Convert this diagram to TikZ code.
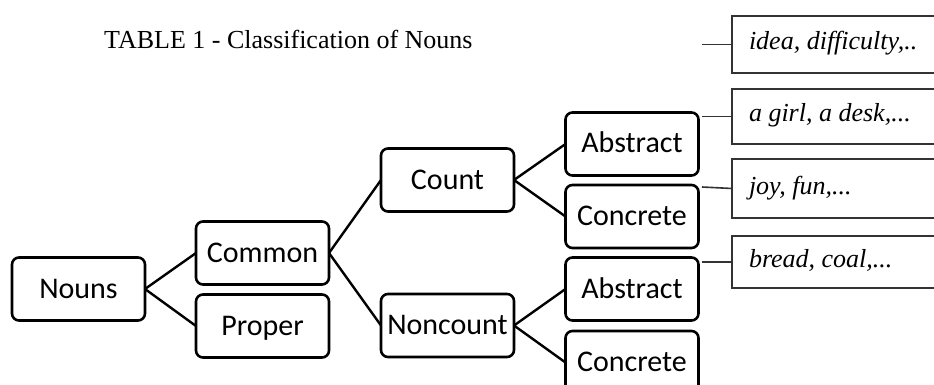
\documentclass[tikz,border=0pt]{standalone}
\usepackage{fontspec}
\setmainfont{Liberation Serif}
\newfontfamily\boxfont{Carlito}
\usetikzlibrary{positioning}

\begin{document}
\begin{tikzpicture}[x=1pt,y=-1pt,
box/.style={draw,line width=2.6pt,rounded corners=7pt,minimum width=133pt,minimum height=63pt,inner sep=0pt,outer sep=0pt,text height=18pt,text depth=0pt,font=\boxfont\fontsize{30}{36}\selectfont},
example/.style={draw=black!80,line width=1.6pt,anchor=west,text width=220pt,inner xsep=17pt,inner ysep=0pt,outer sep=0pt,align=flush left,text height=17pt,text depth=6pt,font=\itshape\fontsize{26}{31}\selectfont},
link/.style={line width=2.4pt},
stub/.style={draw=black!80,line width=1.6pt}]
\useasboundingbox (0,0) rectangle (934,385);
\clip (0,0) rectangle (934,385);
\node[anchor=base west,inner sep=0pt,font=\fontsize{26}{31}\selectfont] (title) at (104,49) {TABLE 1 - Classification of Nouns};
\node[box] (nouns) at (78.5,289) {Nouns};
\node[box,right=51pt of nouns,yshift=36pt] (common) {Common};
\node[box,below=10pt of common] (proper) {Proper};
\node[box,right=52pt of common,yshift=73pt] (count) {Count};
\node[box,right=52pt of common,yshift=-72.5pt] (noncount) {Noncount};
\node[box,right=51.5pt of count,yshift=36pt] (abscount) {Abstract};
\node[box,below=9.5pt of abscount] (concount) {Concrete};
\node[box,right=51.5pt of noncount,yshift=36.5pt] (absnon) {Abstract};
\node[box,below=10.5pt of absnon] (connon) {Concrete};
\node[example,minimum height=57pt] (idea) at (732,44.5) {idea, difficulty,..};
\node[example,minimum height=55pt,below=16pt of idea] (girl) {a girl, a desk,...};
\node[example,minimum height=59pt,below=15pt of girl] (joy) {joy, fun,...};
\node[example,minimum height=52pt,below=18pt of joy] (bread) {bread, coal,...};
\coordinate (ideastub) at (702,44.5);
\draw[link] (nouns.east) -- (common.west);
\draw[link] (nouns.east) -- (proper.west);
\draw[link] (common.east) -- (count.west);
\draw[link] (common.east) -- (noncount.west);
\draw[link] (count.east) -- (abscount.west);
\draw[link] (count.east) -- (concount.west);
\draw[link] (noncount.east) -- (absnon.west);
\draw[link] (noncount.east) -- (connon.west);
\draw[stub] (ideastub) -- (idea.west);
\draw[stub] (girl.west) -- ++(-30,0);
\draw[stub] (joy.west) -- ++(-30,-1.5);
\draw[stub] (bread.west) -- ++(-30,0);
\end{tikzpicture}
\end{document}
